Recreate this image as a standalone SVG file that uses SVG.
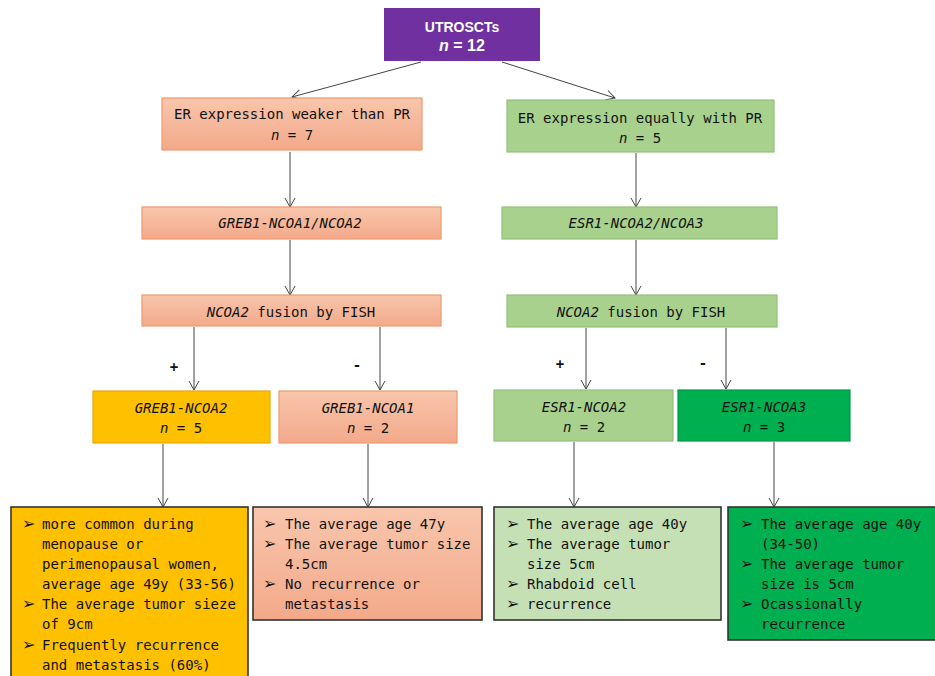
<svg xmlns="http://www.w3.org/2000/svg" width="935" height="676" viewBox="0 0 935 676">
<defs>
<linearGradient id="sal" x1="0" y1="0" x2="0" y2="1"><stop offset="0" stop-color="#F8C6AC"/><stop offset="1" stop-color="#F3A98A"/></linearGradient>
<marker id="ah" markerUnits="userSpaceOnUse" markerWidth="14" markerHeight="14" refX="10" refY="6" orient="auto"><path d="M1,1 L10,6 L1,11" fill="none" stroke="#444" stroke-width="1"/></marker>
<style>
.t{font-family:"DejaVu Sans Mono","Liberation Mono",monospace;font-size:14px;fill:#111}
.c{text-anchor:middle}
.i{font-style:italic}
.sal{fill:url(#sal);stroke:#EE9A70;stroke-width:1.2}
.lg{fill:#A9D18E;stroke:#93C277;stroke-width:1.2}
.dg{fill:#00B050;stroke:#009A45;stroke-width:1.2}
.yl{fill:#FFC000;stroke:#E8A800;stroke-width:1.2}
.bx{stroke:#333;stroke-width:1.6}
.ln{stroke:#444;stroke-width:1;fill:none;marker-end:url(#ah)}
.b{font-family:"DejaVu Sans",sans-serif;font-size:16px}
</style>
</defs>
<rect width="935" height="676" fill="#fff"/>
<g id="connectors">
<line class="ln" x1="421" y1="62" x2="292" y2="97"/>
<line class="ln" x1="502" y1="62" x2="615" y2="98"/>
<line class="ln" x1="290" y1="152" x2="290" y2="207"/>
<line class="ln" x1="636" y1="153" x2="636" y2="207"/>
<line class="ln" x1="290" y1="240" x2="290" y2="295"/>
<line class="ln" x1="636" y1="240" x2="636" y2="295"/>
<line class="ln" x1="194" y1="327" x2="194" y2="390"/>
<line class="ln" x1="380" y1="327" x2="380" y2="390"/>
<line class="ln" x1="586" y1="328" x2="586" y2="389"/>
<line class="ln" x1="726" y1="328" x2="726" y2="389"/>
<line class="ln" x1="163" y1="444" x2="163" y2="507"/>
<line class="ln" x1="368" y1="444" x2="368" y2="507"/>
<line class="ln" x1="574" y1="442" x2="574" y2="507"/>
<line class="ln" x1="774" y1="442" x2="774" y2="507"/>
<text class="t c" x="174" y="372" font-weight="bold">+</text>
<text class="t c" x="357" y="370" font-weight="bold">-</text>
<text class="t c" x="560" y="369" font-weight="bold">+</text>
<text class="t c" x="703" y="368" font-weight="bold">-</text>
</g>
<g id="root">
<rect x="384" y="8" width="156" height="53" fill="#7030A0"/>
<text x="462" y="32" text-anchor="middle" font-family="Liberation Sans,Arial,sans-serif" font-weight="bold" font-size="14" fill="#fff">UTROSCTs</text>
<text x="462" y="51" text-anchor="middle" font-family="Liberation Sans,Arial,sans-serif" font-weight="bold" font-size="16" fill="#fff"><tspan font-style="italic">n</tspan> = 12</text>
</g>
<g id="er-weaker">
<rect class="sal" x="162" y="98" width="260" height="52"/>
<text class="t c" x="292" y="119">ER expression weaker than PR</text>
<text class="t c" x="292" y="140"><tspan class="i">n</tspan> = 7</text>
</g>
<g id="er-equal">
<rect class="lg" x="507" y="100" width="267" height="52"/>
<text class="t c" x="640" y="123">ER expression equally with PR</text>
<text class="t c" x="640" y="143"><tspan class="i">n</tspan> = 5</text>
</g>
<g id="greb1-fusion">
<rect class="sal" x="142" y="207" width="299" height="32"/>
<text class="t c i" x="290" y="228">GREB1-NCOA1/NCOA2</text>
</g>
<g id="esr1-fusion">
<rect class="lg" x="502" y="207" width="275" height="32"/>
<text class="t c i" x="636" y="228">ESR1-NCOA2/NCOA3</text>
</g>
<g id="fish-left">
<rect class="sal" x="142" y="295" width="299" height="31"/>
<text class="t c" x="291" y="317"><tspan class="i">NCOA2</tspan> fusion by FISH</text>
</g>
<g id="fish-right">
<rect class="lg" x="507" y="295" width="270" height="32"/>
<text class="t c" x="641" y="317"><tspan class="i">NCOA2</tspan> fusion by FISH</text>
</g>
<g id="greb1-ncoa2">
<rect class="yl" x="93" y="391" width="177" height="52"/>
<text class="t c i" x="181" y="413">GREB1-NCOA2</text>
<text class="t c" x="181" y="433"><tspan class="i">n</tspan> = 5</text>
</g>
<g id="greb1-ncoa1">
<rect class="sal" x="279" y="391" width="178" height="52"/>
<text class="t c i" x="368" y="413">GREB1-NCOA1</text>
<text class="t c" x="368" y="433"><tspan class="i">n</tspan> = 2</text>
</g>
<g id="esr1-ncoa2">
<rect class="lg" x="494" y="390" width="179" height="51"/>
<text class="t c i" x="584" y="412">ESR1-NCOA2</text>
<text class="t c" x="584" y="432"><tspan class="i">n</tspan> = 2</text>
</g>
<g id="esr1-ncoa3">
<rect class="dg" x="678" y="390" width="172" height="51"/>
<text class="t c i" x="764" y="412">ESR1-NCOA3</text>
<text class="t c" x="764" y="432"><tspan class="i">n</tspan> = 3</text>
</g>
<g id="summary-greb1-ncoa2">
<rect class="bx" x="11" y="507" width="237" height="175" fill="#FFC000"/>
<g class="t">
<text class="b" x="22" y="529">➢</text><text x="42" y="529">more common during</text>
<text x="42" y="549">menopause or</text>
<text x="42" y="569">perimenopausal women,</text>
<text x="42" y="589">average age 49y (33-56)</text>
<text class="b" x="22" y="609">➢</text><text x="42" y="609">The average tumor sieze</text>
<text x="42" y="629">of 9cm</text>
<text class="b" x="22" y="650">➢</text><text x="42" y="650">Frequently recurrence</text>
<text x="42" y="670">and metastasis (60%)</text>
</g>
</g>
<g id="summary-greb1-ncoa1">
<rect class="bx" x="253" y="507" width="229" height="113" fill="url(#sal)"/>
<g class="t">
<text class="b" x="263" y="529">➢</text><text x="285" y="529">The average age 47y</text>
<text class="b" x="263" y="549">➢</text><text x="285" y="549">The average tumor size</text>
<text x="285" y="569">4.5cm</text>
<text class="b" x="263" y="589">➢</text><text x="285" y="589">No recurrence or</text>
<text x="285" y="609">metastasis</text>
</g>
</g>
<g id="summary-esr1-ncoa2">
<rect class="bx" x="494" y="507" width="227" height="113" fill="#C5E0B4"/>
<g class="t">
<text class="b" x="506" y="529">➢</text><text x="527" y="529">The average age 40y</text>
<text class="b" x="506" y="549">➢</text><text x="527" y="549">The average tumor</text>
<text x="527" y="569">size 5cm</text>
<text class="b" x="506" y="589">➢</text><text x="527" y="589">Rhabdoid cell</text>
<text class="b" x="506" y="609">➢</text><text x="527" y="609">recurrence</text>
</g>
</g>
<g id="summary-esr1-ncoa3">
<rect class="bx" x="728" y="507" width="210" height="133" fill="#00B050"/>
<g class="t">
<text class="b" x="740" y="529">➢</text><text x="761" y="529">The average age 40y</text>
<text x="761" y="549">(34-50)</text>
<text class="b" x="740" y="569">➢</text><text x="761" y="569">The average tumor</text>
<text x="761" y="589">size is 5cm</text>
<text class="b" x="740" y="609">➢</text><text x="761" y="609">Ocassionally</text>
<text x="761" y="629">recurrence</text>
</g>
</g>
</svg>
